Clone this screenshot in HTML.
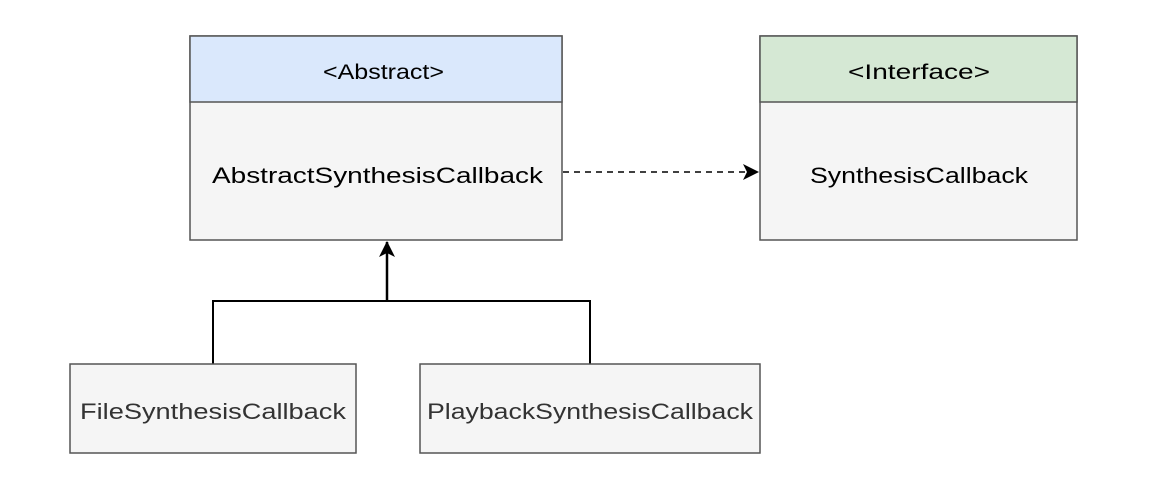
<!DOCTYPE html>
<html><head><meta charset="utf-8"><style>
html,body{margin:0;padding:0;background:#fff;}
body{width:1167px;height:491px;position:relative;overflow:hidden;font-family:"Liberation Sans",sans-serif;}
</style></head><body>
<svg width="1167" height="491" viewBox="0 0 1167 491" xmlns="http://www.w3.org/2000/svg" style="position:absolute;left:0;top:0">
<defs>
<marker id="a" markerWidth="20" markerHeight="20" refX="16" refY="10" orient="auto" markerUnits="userSpaceOnUse">
<path d="M1,2 L17,10 L1,18 L5,10 Z" fill="#000"/>
</marker>
</defs>
<rect x="190" y="36" width="372" height="204" fill="#f5f5f5" stroke="#555" stroke-width="1.5"/>
<rect x="190" y="36" width="372" height="66" fill="#dae8fc" stroke="#555" stroke-width="1.5"/>
<text x="323" y="79" font-size="21" textLength="121" lengthAdjust="spacingAndGlyphs" fill="#000">&lt;Abstract&gt;</text>
<text x="212" y="183" font-size="22" textLength="331" lengthAdjust="spacingAndGlyphs" fill="#000">AbstractSynthesisCallback</text>
<rect x="760" y="36" width="317" height="204" fill="#f5f5f5" stroke="#555" stroke-width="1.5"/>
<rect x="760" y="36" width="317" height="66" fill="#d5e8d4" stroke="#555" stroke-width="1.5"/>
<text x="848" y="79" font-size="21" textLength="142" lengthAdjust="spacingAndGlyphs" fill="#000">&lt;Interface&gt;</text>
<text x="810" y="183" font-size="22" textLength="218" lengthAdjust="spacingAndGlyphs" fill="#000">SynthesisCallback</text>
<line x1="563" y1="172" x2="758" y2="172" stroke="#000" stroke-width="1.5" stroke-dasharray="6,5" marker-end="url(#a)"/>
<path d="M213,364 L213,301 L590,301 L590,364" fill="none" stroke="#000" stroke-width="2"/>
<line x1="387" y1="301" x2="387" y2="242" stroke="#000" stroke-width="2.5" marker-end="url(#a)"/>
<rect x="70" y="364" width="286" height="89" fill="#f5f5f5" stroke="#555" stroke-width="1.5"/>
<text x="80" y="419" font-size="22" textLength="266" lengthAdjust="spacingAndGlyphs" fill="#333">FileSynthesisCallback</text>
<rect x="420" y="364" width="340" height="89" fill="#f5f5f5" stroke="#555" stroke-width="1.5"/>
<text x="427" y="419" font-size="22" textLength="326" lengthAdjust="spacingAndGlyphs" fill="#333">PlaybackSynthesisCallback</text>
</svg>
</body></html>
